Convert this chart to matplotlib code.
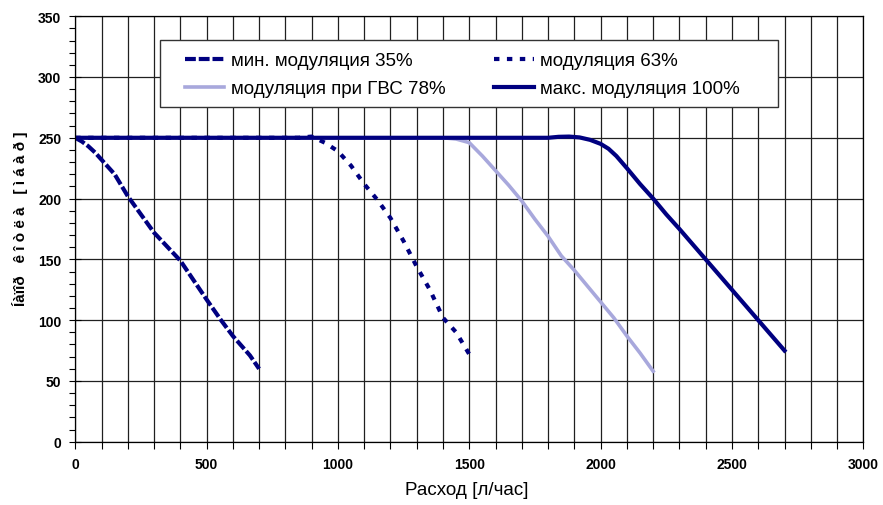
import matplotlib.pyplot as plt
from matplotlib.ticker import MultipleLocator
from matplotlib.patches import Rectangle

# flow [l/h] vs head [mbar]
x_35 = [0, 25, 50, 75, 100, 150, 200, 300, 400, 500, 555, 600, 665, 700]
y_35 = [250, 247, 243, 238, 232, 220, 202, 172, 149, 117, 100, 87, 71, 60]

x_63 = [0, 850, 900, 950, 1000, 1050, 1100, 1150, 1200, 1250, 1300, 1350, 1400, 1450, 1500]
y_63 = [250, 250, 251, 246, 239, 227, 212, 199, 184, 165, 144, 125, 102, 90, 72]

x_78 = [0, 1400, 1450, 1500, 1550, 1600, 1650, 1700, 1750, 1800, 1850, 1900, 1950, 2000, 2050, 2100, 2150, 2200]
y_78 = [250, 250, 249, 246, 235, 223, 211, 198, 183, 169, 153, 141, 128, 115, 102, 87, 73, 58]

x_100 = [0, 1800, 1840, 1880, 1920, 1960, 2000, 2030, 2060, 2100, 2150, 2200, 2250, 2300, 2400, 2500, 2600, 2700]
y_100 = [250, 250, 250.8, 251, 250.3, 248.3, 245, 241, 235, 225, 212, 200, 187, 175, 150, 125, 100, 75]

labels = ['мин. модуляция 35%', 'модуляция 63%', 'модуляция при ГВС 78%', 'макс. модуляция 100%']

plt.rcParams['font.family'] = ['Liberation Sans', 'DejaVu Sans']

fig = plt.figure(figsize=(8.83, 5.06), dpi=100)
ax = fig.add_axes([0.0852, 0.125, 0.8925, 0.841])

navy = '#000080'
l78, = ax.plot(x_78, y_78, color='#a8a8dc', lw=2.6, label=labels[2])
l63, = ax.plot(x_63, y_63, color=navy, lw=3.0, linestyle=(0, (1.3, 1.8)), label=labels[1])
l35, = ax.plot(x_35, y_35, color=navy, lw=3.0, linestyle=(0, (2.6, 0.7)), label=labels[0])
l100, = ax.plot(x_100, y_100, color=navy, lw=3.0, label=labels[3])

ax.set_xlim(0, 3000)
ax.set_ylim(0, 350)
ax.xaxis.set_major_locator(MultipleLocator(500))
ax.xaxis.set_minor_locator(MultipleLocator(100))
ax.yaxis.set_major_locator(MultipleLocator(50))
ax.yaxis.set_minor_locator(MultipleLocator(10))

ax.grid(True, which='major', axis='y', color='#202020', lw=0.9)
ax.grid(True, which='both', axis='x', color='#202020', lw=0.9)
ax.set_axisbelow(True)

ax.tick_params(axis='x', which='both', direction='out', length=5, width=0.8, pad=6)
ax.tick_params(axis='y', which='major', direction='inout', length=8, width=0.8, pad=6)
ax.tick_params(axis='y', which='minor', direction='out', length=4, width=0.8)
for t in ax.get_xticklabels() + ax.get_yticklabels():
    t.set_fontweight('bold')
    t.set_fontsize(10)
for s in ax.spines.values():
    s.set_linewidth(0.9)

fig.text(467 / 883, 1 - 491 / 506, 'Расход [л/час]', ha='center', va='center', fontsize=13.5)
fig.text(20 / 883, 1 - 219 / 506, 'Íàïîð   ê î ò ë à   [ ì á à ð ]', rotation=90,
         ha='center', va='center', fontsize=11, fontweight='bold')

# legend box
box = Rectangle((160 / 883, 1 - 108 / 506), 618 / 883, 67 / 506, transform=fig.transFigure,
                facecolor='white', edgecolor='#333333', lw=1.0, zorder=4, clip_on=False)
ax.add_patch(box)
leg = ax.legend([l35, l78, l63, l100], [labels[0], labels[2], labels[1], labels[3]],
                ncol=2, loc='upper left',
                bbox_to_anchor=(185 / 883, 1 - 53 / 506),
                bbox_transform=fig.transFigure, borderaxespad=0, borderpad=0,
                fontsize=13.5, frameon=False, handlelength=2.1, handletextpad=0.35,
                labelspacing=0.6, columnspacing=2.6)
leg.set_zorder(5)

fig.savefig('out.png', dpi=100)
